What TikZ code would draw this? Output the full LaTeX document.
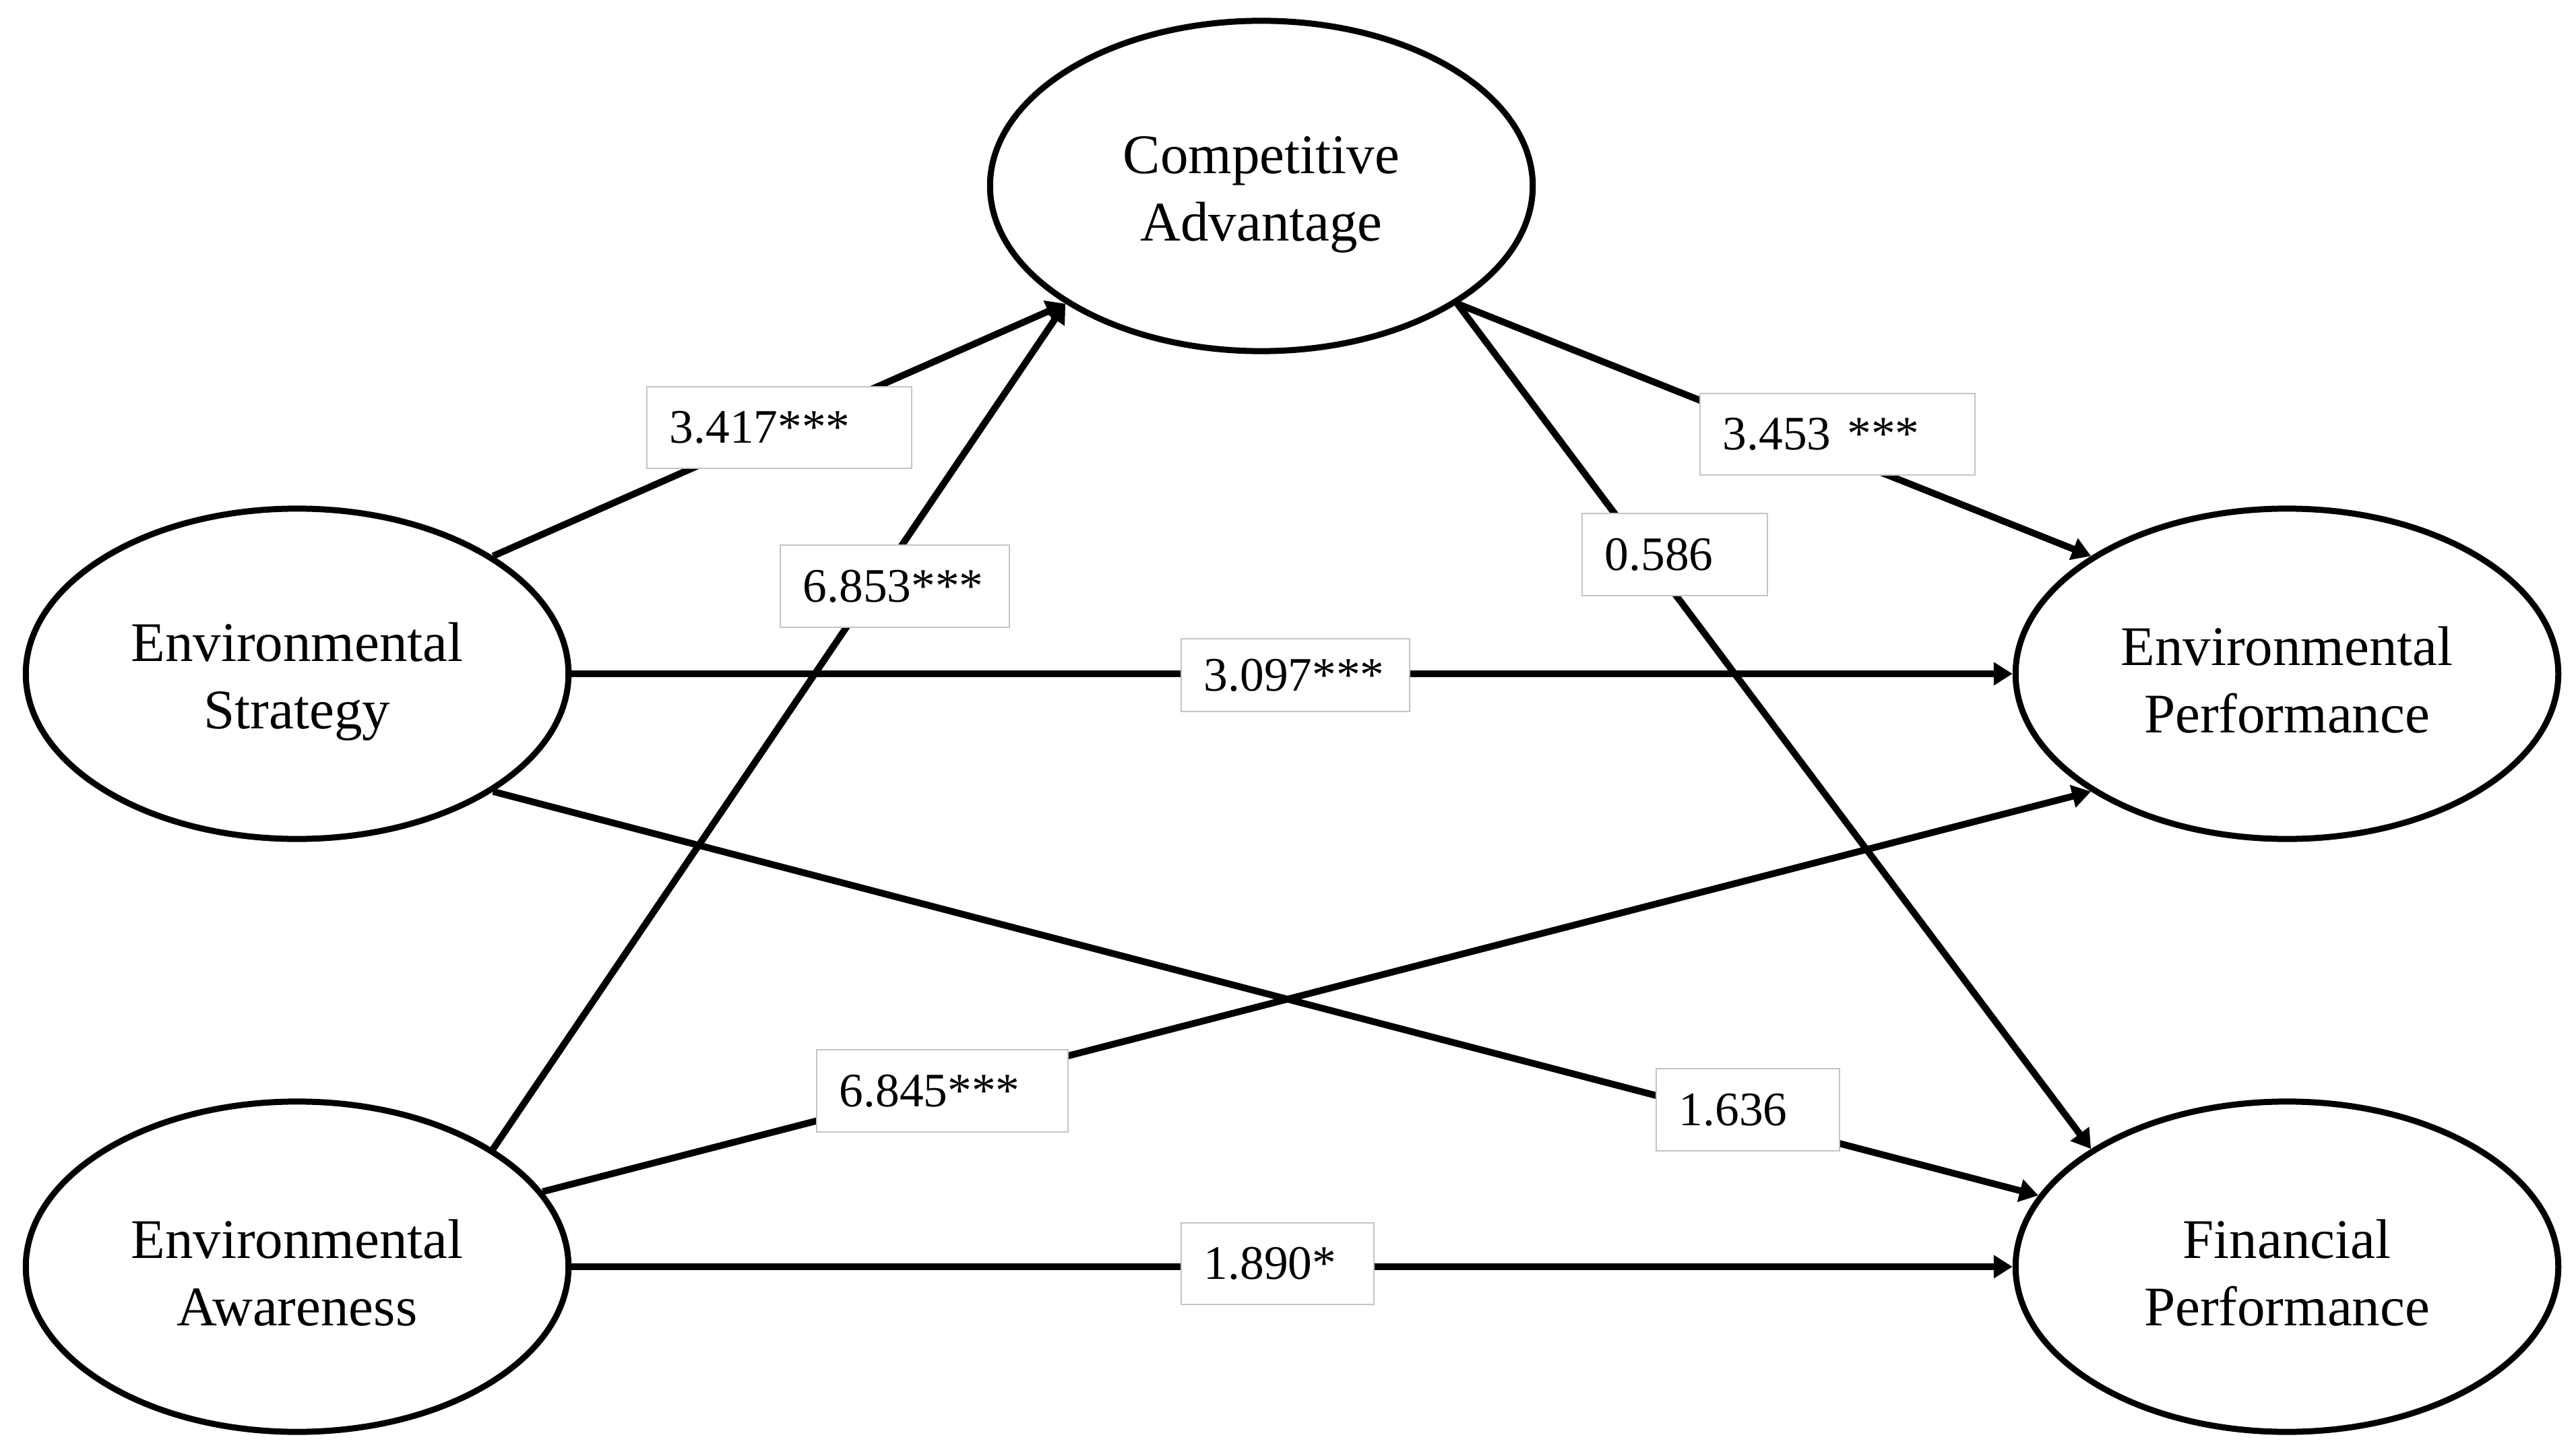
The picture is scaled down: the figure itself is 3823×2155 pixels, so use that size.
\documentclass[tikz,border=0pt]{standalone}
\usepackage{fontspec}
\setmainfont{Liberation Serif}
\usetikzlibrary{arrows.meta,shapes.geometric}
\definecolor{boxgray}{RGB}{196,196,196}
\newcommand\lnstrut{\rule[-1.42pt]{0pt}{24.18pt}}
\begin{document}
\begin{tikzpicture}[x=0.01cm,y=-0.01cm,
  latent/.style={ellipse, draw, line width=0.09cm, minimum width=8.05cm, minimum height=4.9cm, inner sep=0pt, align=center, font=\fontsize{23.6pt}{28.45pt}\selectfont},
  conn/.style={line width=0.1cm, -{Triangle[length=0.28cm,width=0.33cm]}},
  coef/.style={draw=boxgray, line width=0.02cm, fill=white, inner xsep=0.34cm, inner ysep=0pt, minimum height=1.21cm, align=left, font=\fontsize{20.3pt}{24pt}\selectfont}]
\useasboundingbox (0,0) rectangle (3823,2155);
\fill[white] (0,0) rectangle (3823,2155);

\node[latent] (CA) at (1872,276) {\lnstrut Competitive\\\lnstrut Advantage};
\node[latent] (ES) at (441,1000) {\lnstrut Environmental\\\lnstrut Strategy};
\node[latent] (EA) at (441,1880) {\lnstrut Environmental\\\lnstrut Awareness};
\node[latent] (EP) at (3394,1000) {\lnstrut Environmental\\\lnstrut Performance};
\node[latent] (FP) at (3394,1880) {\lnstrut Financial\\\lnstrut Performance};

\draw[conn] (ES.31) -- (CA.211);
\draw[conn] (EA.31) -- (CA.211);
\draw[conn] (CA.329) -- (EP.149);
\draw[conn] (CA.329) -- (FP.149);
\draw[conn] (ES.east) -- (EP.west);
\draw[conn] (ES.329) -- (FP.164);
\draw[conn] (EA.17) -- (EP.211);
\draw[conn] (EA.east) -- (FP.west);

\node[coef, text width=3.25cm] (c1) at (1156.5,634.5) {3.417***};
\node[coef, text width=2.72cm] (c2) at (1328,870) {6.853***};
\node[coef, text width=3.40cm] (c3) at (2727,644.5) {3.453 ***};
\node[coef, text width=2.07cm] (c4) at (2485.5,823) {0.586};
\node[coef, text width=2.71cm, minimum height=1.08cm] (c5) at (1922.5,1002) {3.097***};
\node[coef, text width=3.05cm] (c6) at (1398.5,1619) {6.845***};
\node[coef, text width=2.04cm] (c7) at (2594,1647) {1.636};
\node[coef, text width=2.18cm] (c8) at (1896,1875.5) {1.890*};
\end{tikzpicture}
\end{document}
